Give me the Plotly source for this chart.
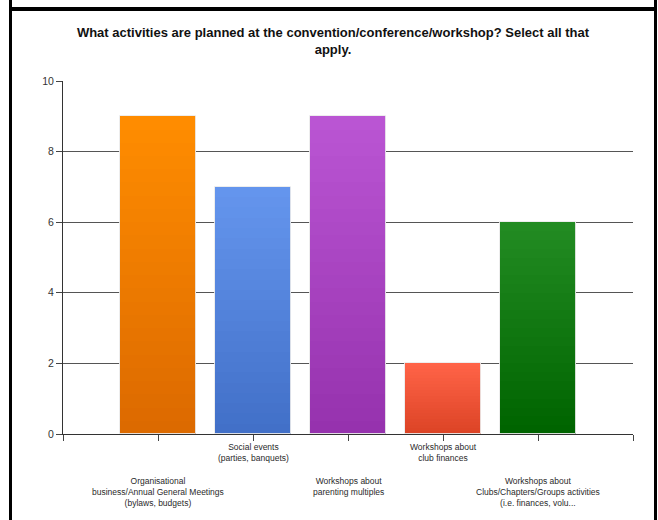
import plotly.graph_objects as go

# ---- data ----
categories = [
    "Organisational<br>business/Annual General Meetings<br>(bylaws, budgets)",
    "Social events<br>(parties, banquets)",
    "Workshops about<br>parenting multiples",
    "Workshops about<br>club finances",
    "Workshops about<br>Clubs/Chapters/Groups activities<br>(i.e. finances, volu...",
]
values = [9, 7, 9, 2, 6]
y_ticks = [0, 2, 4, 6, 8, 10]
title_text = "What activities are planned at the convention/conference/workshop? Select all that<br>apply."

# ---- styles ----
top_colors = ["#FF8C00", "#6495ED", "#BA55D3", "#FF6347", "#228B22"]
bottom_colors = ["#DC6A00", "#4270C8", "#9632AE", "#DC4426", "#006400"]
W, H = 658, 520
L, R, T, B = 63, 25, 81, 86
pw, ph = W - L - R, H - T - B


def hex2rgb(h):
    h = h.lstrip("#")
    return [int(h[i:i + 2], 16) for i in (0, 2, 4)]


def mix(a, b, t):
    ca, cb = hex2rgb(a), hex2rgb(b)
    return "rgb(%d,%d,%d)" % tuple(round(ca[i] + (cb[i] - ca[i]) * t) for i in range(3))


xpos = list(range(1, len(values) + 1))
fig = go.Figure()

# vertical gradient: overlaid bars of decreasing height, lighter at top
N = 24
for k in range(N):
    frac = (N - k) / N
    fig.add_trace(go.Bar(
        x=xpos,
        y=[v * frac for v in values],
        width=0.79,
        marker=dict(color=[mix(t, b, k / (N - 1)) for t, b in zip(top_colors, bottom_colors)],
                    line=dict(width=0)),
        showlegend=False,
        hoverinfo="skip",
    ))
# outline
fig.add_trace(go.Bar(
    x=xpos, y=values, width=0.79,
    marker=dict(color="rgba(0,0,0,0)", line=dict(color="rgba(235,235,235,0.9)", width=1)),
    showlegend=False, hovertext=categories, hoverinfo="text+y",
))

# category labels, staggered in two rows
for i, c in enumerate(categories):
    upper = (i % 2 == 1)
    fig.add_annotation(
        x=xpos[i], xref="x",
        y=(-6 / ph) if upper else (-40 / ph), yref="paper",
        text=c, showarrow=False, xanchor="center", yanchor="top",
        font=dict(family="Liberation Sans, Arial", size=8.5, color="#2a2a2a"),
        align="center",
    )


def px_x(x):
    return (x - L) / pw


def px_y(y):
    return (H - B - y) / ph


frame = "#000000"
fig.add_shape(type="rect", xref="paper", yref="paper",
              x0=px_x(9), x1=px_x(12), y0=px_y(H), y1=px_y(0),
              fillcolor=frame, line=dict(width=0), layer="above")
fig.add_shape(type="rect", xref="paper", yref="paper",
              x0=px_x(654), x1=px_x(657), y0=px_y(H), y1=px_y(0),
              fillcolor=frame, line=dict(width=0), layer="above")
fig.add_shape(type="rect", xref="paper", yref="paper",
              x0=px_x(9), x1=px_x(657), y0=px_y(11), y1=px_y(7),
              fillcolor=frame, line=dict(width=0), layer="above")

fig.update_layout(
    width=W, height=H,
    margin=dict(l=L, r=R, t=T, b=B, pad=0),
    paper_bgcolor="white", plot_bgcolor="white",
    barmode="overlay", bargap=0,
    title=dict(text=title_text, x=333 / W, xanchor="center", y=1 - 37 / H, yanchor="top",
               font=dict(family="Liberation Sans, Arial", size=13, color="#111111", weight="bold")),
    xaxis=dict(range=[0, len(values) + 1], tickvals=list(range(0, len(values) + 2)),
               ticktext=[""] * (len(values) + 2), ticks="outside", ticklen=6, tickcolor="#444444",
               showline=True, linecolor="#333333", linewidth=1, showgrid=False, zeroline=False,
               fixedrange=True),
    yaxis=dict(range=[0, 10], tickvals=y_ticks, ticks="outside", ticklen=6, tickcolor="#444444",
               showline=True, linecolor="#333333", linewidth=1,
               showgrid=True, gridcolor="#555555", gridwidth=1, zeroline=False,
               tickfont=dict(family="Liberation Sans, Arial", size=10.5, color="#333333"),
               fixedrange=True),
    font=dict(family="Liberation Sans, Arial"),
)

fig.write_html("out.html", post_script="document.body.style.margin='0';",
               config={"displayModeBar": False})
